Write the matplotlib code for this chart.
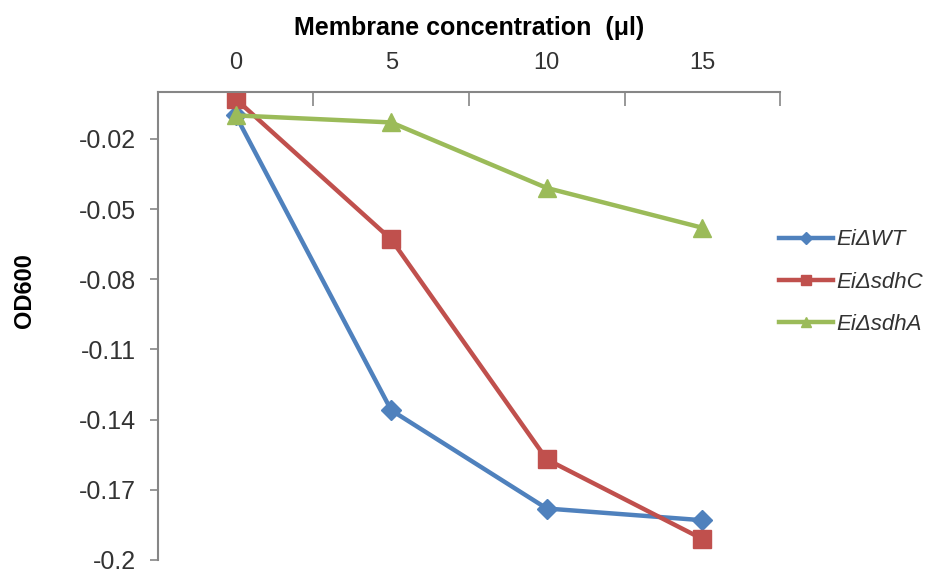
import matplotlib.pyplot as plt
import numpy as np

plt.rcParams['font.family'] = ['Liberation Sans', 'DejaVu Sans']

concentrations = ['0', '5', '10', '15']
wt = [-0.010, -0.136, -0.178, -0.183]
sdhc = [-0.003, -0.063, -0.157, -0.191]
sdha = [-0.010, -0.013, -0.041, -0.058]
y_ticks = [-0.2, -0.17, -0.14, -0.11, -0.08, -0.05, -0.02]

fig = plt.figure(figsize=(9.38, 5.73), dpi=100, facecolor='white')
ax = fig.add_axes([0.1684, 0.0227, 0.8316 - 0.1684, 0.8394 - 0.0227])

x = np.arange(len(concentrations))
ax.plot(x, wt, color='#4F81BD', lw=3.2, marker='D', ms=10, label='Ei\u0394WT')
ax.plot(x, sdhc, color='#C0504D', lw=3.2, marker='s', ms=12.5, label='Ei\u0394sdhC')
ax.plot(x, sdha, color='#9BBB59', lw=3.2, marker='^', ms=13, label='Ei\u0394sdhA')

ax.set_xlim(-0.5, len(concentrations) - 0.5)
ax.set_ylim(-0.2, 0)

# x axis on top: tick marks between categories, labels at centres
ax.xaxis.tick_top()
ax.xaxis.set_label_position('top')
ax.set_xticks(np.arange(len(concentrations) + 1) - 0.5)
ax.set_xticklabels([])
ax.set_xticks(x, minor=True)
ax.set_xticklabels(concentrations, minor=True, fontsize=17, color='#333333')
ax.tick_params(axis='x', which='major', direction='in', length=10, color='#868686', width=1.2)
ax.tick_params(axis='x', which='minor', length=0, pad=13)
ax.set_xlabel('Membrane concentration  (\u03bcl)', fontsize=18, fontweight='bold', labelpad=12)

ax.set_yticks(y_ticks)
ax.set_yticklabels([f'{v:g}' for v in y_ticks], fontsize=18, color='#333333')
ax.tick_params(axis='y', direction='out', length=6, color='#868686', width=1.2, pad=10)
ax.set_ylabel('OD600', fontsize=17, fontweight='bold')
ax.yaxis.set_label_coords(-0.196, 0.575)

for s in ['right', 'bottom']:
    ax.spines[s].set_visible(False)
for s in ['left', 'top']:
    ax.spines[s].set_color('#868686')
    ax.spines[s].set_linewidth(1.5)

leg = ax.legend(loc='center left', bbox_to_anchor=(0.998, 0.594), frameon=False,
                prop={'size': 16, 'style': 'italic'}, handlelength=2.45,
                handletextpad=0.12, labelspacing=0.95, borderaxespad=0,
                borderpad=0, markerscale=0.6)
for t in leg.get_texts():
    t.set_color('#333333')

fig.savefig('out.png', dpi=100)
